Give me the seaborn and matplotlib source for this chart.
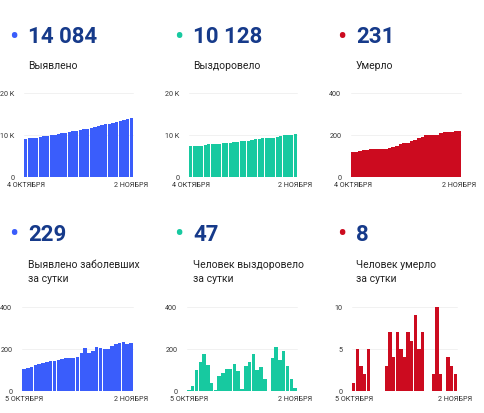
import numpy as np
import pandas as pd
import seaborn as sns
import matplotlib.pyplot as plt

# cumulative totals, 4 Oct - 2 Nov
cases_total = [9072, 9178, 9288, 9404, 9528, 9658, 9793, 9933, 10077, 10221,
               10370, 10522, 10678, 10834, 10993, 11155, 11336, 11542, 11723, 11915,
               12125, 12330, 12530, 12732, 12948, 13170, 13397, 13630, 13855, 14084]
recovered_total = [7315, 7321, 7347, 7445, 7583, 7757, 7883, 7923, 7928, 8000,
                   8086, 8193, 8300, 8430, 8524, 8534, 8654, 8790, 8964, 9065,
                   9179, 9235, 9235, 9390, 9600, 9747, 9936, 10053, 10112, 10128]
deaths_total = [118, 119, 124, 127, 129, 134, 134, 134, 134, 134,
                137, 144, 148, 155, 160, 164, 171, 177, 186, 191,
                198, 198, 198, 200, 210, 212, 212, 216, 219, 221]

# daily values, 5 Oct - 2 Nov
cases_daily = [106, 110, 116, 124, 130, 135, 140, 144, 144, 149,
               152, 156, 156, 159, 162, 181, 206, 181, 192, 210,
               205, 200, 202, 216, 222, 227, 233, 225, 229]
recovered_daily = [6, 26, 98, 138, 174, 126, 40, 5, 72, 86,
                   107, 107, 130, 94, 10, 120, 136, 174, 101, 114,
                   56, 0, 155, 210, 147, 189, 117, 59, 16]
deaths_daily = [1, 5, 3, 2, 5, 0, 0, 0, 0, 3,
                7, 4, 7, 5, 4, 7, 6, 9, 5, 7,
                0, 0, 2, 10, 2, 0, 4, 3, 2]

headline = ["14 084", "10 128", "231", "229", "47", "8"]
captions = ["Выявлено", "Выздоровело", "Умерло",
            "Выявлено заболевших\nза сутки", "Человек выздоровело\nза сутки",
            "Человек умерло\nза сутки"]
colors = ["#3a5dfb", "#17c9a0", "#cc0b1f"]
navy = "#163a8a"

sns.set_style("white")
plt.rcParams['font.family'] = ['Roboto', 'DejaVu Sans']

W, H = 485, 414
fig = plt.figure(figsize=(W / 100, H / 100), dpi=100)


def px(x, y):
    return x / W, 1 - y / H


def panel(left, right, bottom, top, values, color, ymax, yticks, yticklabels, start_lbl):
    ax = fig.add_axes([left / W, 1 - bottom / H, (right - left) / W, (bottom - top) / H])
    n = len(values)
    sns.barplot(x=list(range(n)), y=values, color=color, saturation=1,
                width=0.92, linewidth=0, ax=ax)
    ax.set_ylim(0, ymax)
    ax.set_xlim(-0.5, n - 0.5)
    ax.set_yticks(yticks)
    ax.set_yticklabels(yticklabels)
    ax.set_xticks([0, n - 1])
    ax.set_xticklabels([start_lbl, "2 НОЯБРЯ"])
    ax.tick_params(axis='y', length=0, pad=7, labelsize=5.2, labelcolor='#333333')
    ax.tick_params(axis='x', length=0, pad=3, labelsize=5.2, labelcolor='#333333')
    ax.set_xlabel("")
    ax.set_ylabel("")
    for s in ax.spines.values():
        s.set_visible(False)
    for t in yticks[1:]:
        ax.axhline(t, color='#efefef', lw=0.6, zorder=0, clip_on=False)
    ax.set_axisbelow(True)
    return ax


# top row (cumulative)
panel(24, 133, 178, 94, cases_total, colors[0], 20000, [0, 10000, 20000], ["0", "10 K", "20 K"], "4 ОКТЯБРЯ")
panel(189, 297, 178, 94, recovered_total, colors[1], 20000, [0, 10000, 20000], ["0", "10 K", "20 K"], "4 ОКТЯБРЯ")
panel(351, 461, 178, 94, deaths_total, colors[2], 400, [0, 200, 400], ["0", "200", "400"], "4 ОКТЯБРЯ")

# bottom row (daily)
panel(22, 133, 392, 308, cases_daily, colors[0], 400, [0, 200, 400], ["0", "200", "400"], "5 ОКТЯБРЯ")
panel(187, 297, 392, 308, recovered_daily, colors[1], 400, [0, 200, 400], ["0", "200", "400"], "5 ОКТЯБРЯ")
panel(352, 457, 392, 308, deaths_daily, colors[2], 10, [0, 5, 10], ["0", "5", "10"], "5 ОКТЯБРЯ")

# headers
col_x = [0, 165, 328]
for i in range(6):
    row, col = divmod(i, 3)
    y_num = 37 if row == 0 else 235
    y_cap = 61 if row == 0 else 260.5
    x0 = col_x[col]
    fig.text(*px(x0 + 14, y_num), "•", color=colors[col], fontsize=20,
             ha='center', va='center')
    fig.text(*px(x0 + 28, y_num), headline[i], color=navy, fontsize=16,
             fontweight='bold', ha='left', va='center')
    fig.text(*px(x0 + 28, y_cap), captions[i], color='#222222', fontsize=7.5,
             ha='left', va='top', linespacing=1.45)

fig.savefig("out.png", dpi=100)
